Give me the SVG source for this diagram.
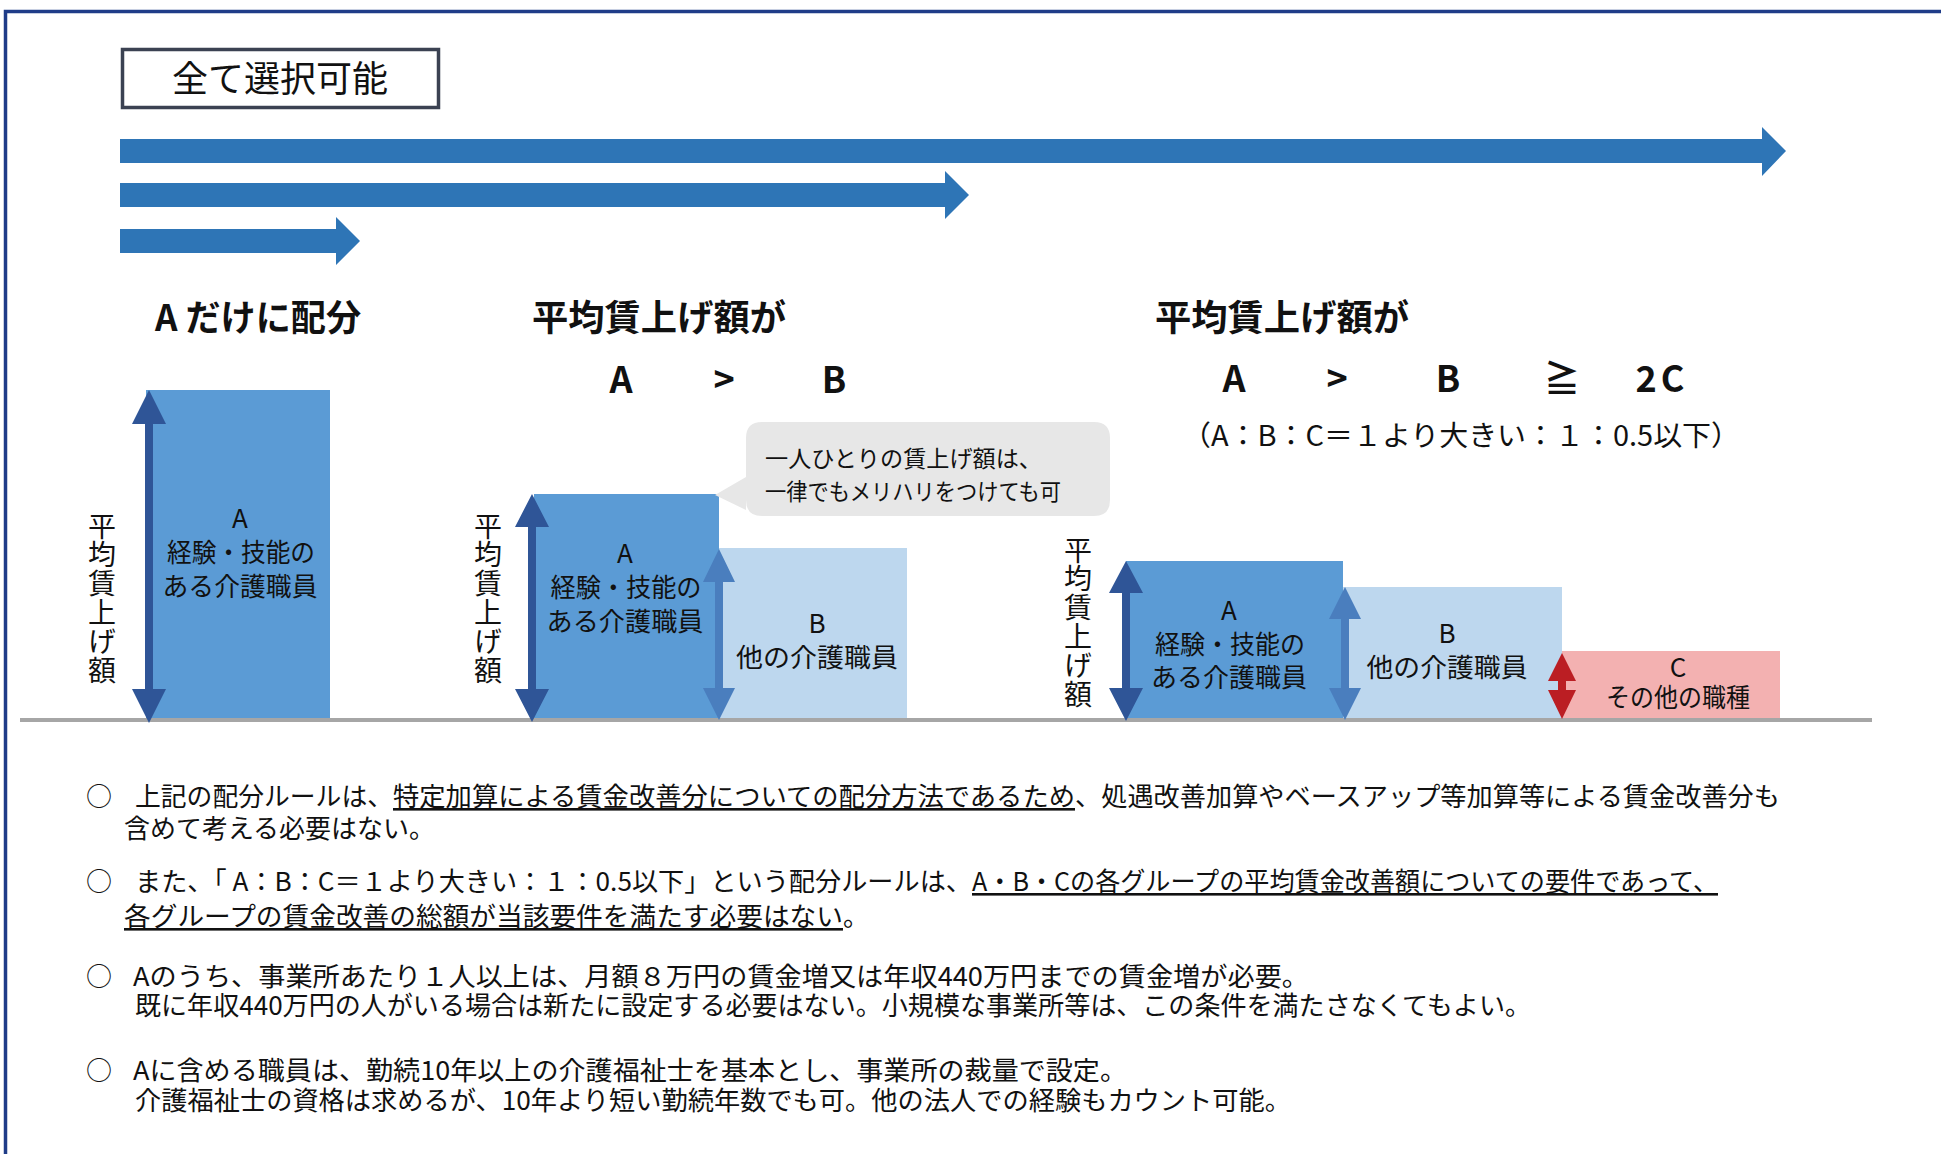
<svg xmlns="http://www.w3.org/2000/svg" width="1941" height="1154" viewBox="0 0 1941 1154">
<style>
text{font-family:"Noto Sans CJK JP","Noto Sans",sans-serif;fill:#111}
.h{font-weight:bold;font-size:36px}
.lbl{font-size:26px;text-anchor:middle}
.vl{font-size:28px;writing-mode:vertical-rl;letter-spacing:0.8px}
.note{font-size:26px}
.u{text-decoration:underline}
.barA{fill:#5b9bd5}
.barB{fill:#bdd7ee}
.barC{fill:#f3b1b1}
.big{fill:#2e75b6}
.dk{fill:#2f5597}
.md{fill:#4a7ebe}
.rd{fill:#bb1e23}
</style>
<rect width="1941" height="1154" fill="#fff"/>
<rect x="5.5" y="11.5" width="1960" height="1170" fill="none" stroke="#1f3c88" stroke-width="3.5"/>

<g id="select-box">
<rect x="122.5" y="49.5" width="316" height="58" fill="#fff" stroke="#3b4252" stroke-width="3.5"/>
<text x="280" y="92" font-size="36" text-anchor="middle">全て選択可能</text>
</g>

<g id="range-arrows">
<path class="big" d="M120,139 L1762,139 L1762,127 L1786,151 L1762,176 L1762,163 L120,163 Z"/>
<path class="big" d="M120,183 L945,183 L945,171 L969,195 L945,219 L945,207 L120,207 Z"/>
<path class="big" d="M120,229 L336,229 L336,217 L360,241 L336,265 L336,253 L120,253 Z"/>
</g>

<g id="headings">
<text class="h" x="155" y="331" textLength="206" lengthAdjust="spacingAndGlyphs">A だけに配分</text>
<text class="h" x="532" y="331" textLength="254" lengthAdjust="spacingAndGlyphs">平均賃上げ額が</text>
<text class="h" x="621" y="393" text-anchor="middle">A</text>
<text class="h" x="724" y="393" text-anchor="middle">&gt;</text>
<text class="h" x="834" y="393" text-anchor="middle">B</text>
<text class="h" x="1155" y="331" textLength="254" lengthAdjust="spacingAndGlyphs">平均賃上げ額が</text>
<text class="h" x="1234" y="392" text-anchor="middle">A</text>
<text class="h" x="1337" y="392" text-anchor="middle">&gt;</text>
<text class="h" x="1448" y="392" text-anchor="middle">B</text>
<text class="h" x="1562" y="392" text-anchor="middle">≧</text>
<text class="h" x="1662" y="392" text-anchor="middle" letter-spacing="4">2C</text>
<text x="1182" y="446" font-size="28" textLength="558" lengthAdjust="spacingAndGlyphs">（A：B：C＝１より大きい：１：0.5以下）</text>
</g>

<g id="bars">
<g id="s1-barA"><rect class="barA" x="146" y="390" width="184" height="328"/></g>
<g id="s2-barA"><rect class="barA" x="534" y="494" width="185" height="224"/></g>
<g id="s2-barB"><rect class="barB" x="719" y="548" width="188" height="170"/></g>
<g id="s3-barA"><rect class="barA" x="1126" y="561" width="217" height="157"/></g>
<g id="s3-barB"><rect class="barB" x="1343" y="587" width="219" height="131"/></g>
<g id="s3-barC"><rect class="barC" x="1562" y="651" width="218" height="67"/></g>
</g>

<line x1="20" y1="720" x2="1872" y2="720" stroke="#a6a6a6" stroke-width="4"/>

<g id="callout">
<path d="M762,422 L1094,422 Q1110,422 1110,438 L1110,500 Q1110,516 1094,516 L762,516 Q746,516 746,500 L746,510 L715,495 L746,477 L746,438 Q746,422 762,422 Z" fill="#e7e7e7"/>
<text x="765" y="467" font-size="23" textLength="277" lengthAdjust="spacingAndGlyphs">一人ひとりの賃上げ額は、</text>
<text x="765" y="500" font-size="23" textLength="296" lengthAdjust="spacingAndGlyphs">一律でもメリハリをつけても可</text>
</g>

<g id="connectors">
<path class="dk" d="M149,390 L166,424 L153,424 L153,689 L166,689 L149,723 L132,689 L145,689 L145,424 L132,424 Z"/>
<path class="dk" d="M532,494 L549,527 L536,527 L536,689 L549,689 L532,722 L515,689 L528,689 L528,527 L515,527 Z"/>
<path class="md" d="M719,549 L735,582 L723,582 L723,688 L735,688 L719,720 L703,688 L715,688 L715,582 L703,582 Z"/>
<path class="dk" d="M1126,561 L1143,593 L1130,593 L1130,688 L1143,688 L1126,721 L1109,688 L1122,688 L1122,593 L1109,593 Z"/>
<path class="md" d="M1345,587 L1361,619 L1349,619 L1349,688 L1361,688 L1345,720 L1329,688 L1341,688 L1341,619 L1329,619 Z"/>
<path class="rd" d="M1562,653 L1576,681 L1566,681 L1566,690 L1576,690 L1562,719 L1548,690 L1558,690 L1558,681 L1548,681 Z"/>
</g>

<g id="bar-labels">
<text class="lbl" x="240" y="528">A</text>
<text class="lbl" x="241" y="562" textLength="148" lengthAdjust="spacingAndGlyphs">経験・技能の</text>
<text class="lbl" x="240" y="596" textLength="155" lengthAdjust="spacingAndGlyphs">ある介護職員</text>

<text class="lbl" x="625" y="563">A</text>
<text class="lbl" x="626" y="597" textLength="151" lengthAdjust="spacingAndGlyphs">経験・技能の</text>
<text class="lbl" x="625" y="631" textLength="157" lengthAdjust="spacingAndGlyphs">ある介護職員</text>
<text class="lbl" x="817" y="633">B</text>
<text class="lbl" x="817" y="667" textLength="162" lengthAdjust="spacingAndGlyphs">他の介護職員</text>

<text class="lbl" x="1229" y="620">A</text>
<text class="lbl" x="1230" y="654" textLength="150" lengthAdjust="spacingAndGlyphs">経験・技能の</text>
<text class="lbl" x="1229" y="687" textLength="156" lengthAdjust="spacingAndGlyphs">ある介護職員</text>
<text class="lbl" x="1447" y="643">B</text>
<text class="lbl" x="1447" y="677" textLength="161" lengthAdjust="spacingAndGlyphs">他の介護職員</text>
<text class="lbl" x="1678" y="677">C</text>
<text class="lbl" x="1678" y="707" textLength="144" lengthAdjust="spacingAndGlyphs">その他の職種</text>
</g>

<g id="axis-labels">
<text class="vl" x="102" y="512">平均賃上げ額</text>
<text class="vl" x="488" y="512">平均賃上げ額</text>
<text class="vl" x="1078" y="536">平均賃上げ額</text>
</g>

<g id="notes">
<text class="note" x="99" y="806" text-anchor="middle">○</text>
<text class="note" x="135" y="806" textLength="258" lengthAdjust="spacingAndGlyphs">上記の配分ルールは、</text>
<text class="note u" x="393" y="806" textLength="682" lengthAdjust="spacingAndGlyphs">特定加算による賃金改善分についての配分方法であるため</text>
<text class="note" x="1075" y="806" textLength="705" lengthAdjust="spacingAndGlyphs">、処遇改善加算やベースアップ等加算等による賃金改善分も</text>
<text class="note" x="124" y="838" textLength="311" lengthAdjust="spacingAndGlyphs">含めて考える必要はない。</text>

<text class="note" x="99" y="891" text-anchor="middle">○</text>
<text class="note" x="135" y="891" textLength="837" lengthAdjust="spacingAndGlyphs">また、「 A：B：C＝１より大きい：１：0.5以下」という配分ルールは、</text>
<text class="note u" x="972" y="891" textLength="746" lengthAdjust="spacingAndGlyphs">A・B・Cの各グループの平均賃金改善額についての要件であって、</text>
<text class="note u" x="124" y="926" textLength="719" lengthAdjust="spacingAndGlyphs">各グループの賃金改善の総額が当該要件を満たす必要はない</text>
<text class="note" x="843" y="926">。</text>

<text class="note" x="99" y="986" text-anchor="middle">○</text>
<text class="note" x="133" y="986" textLength="1176" lengthAdjust="spacingAndGlyphs">Aのうち、事業所あたり１人以上は、月額８万円の賃金増又は年収440万円までの賃金増が必要。</text>
<text class="note" x="135" y="1015" textLength="1396" lengthAdjust="spacingAndGlyphs">既に年収440万円の人がいる場合は新たに設定する必要はない。小規模な事業所等は、この条件を満たさなくてもよい。</text>

<text class="note" x="99" y="1080" text-anchor="middle">○</text>
<text class="note" x="133" y="1080" textLength="994" lengthAdjust="spacingAndGlyphs">Aに含める職員は、勤続10年以上の介護福祉士を基本とし、事業所の裁量で設定。</text>
<text class="note" x="135" y="1110" textLength="1156" lengthAdjust="spacingAndGlyphs">介護福祉士の資格は求めるが、10年より短い勤続年数でも可。他の法人での経験もカウント可能。</text>
</g>
</svg>
